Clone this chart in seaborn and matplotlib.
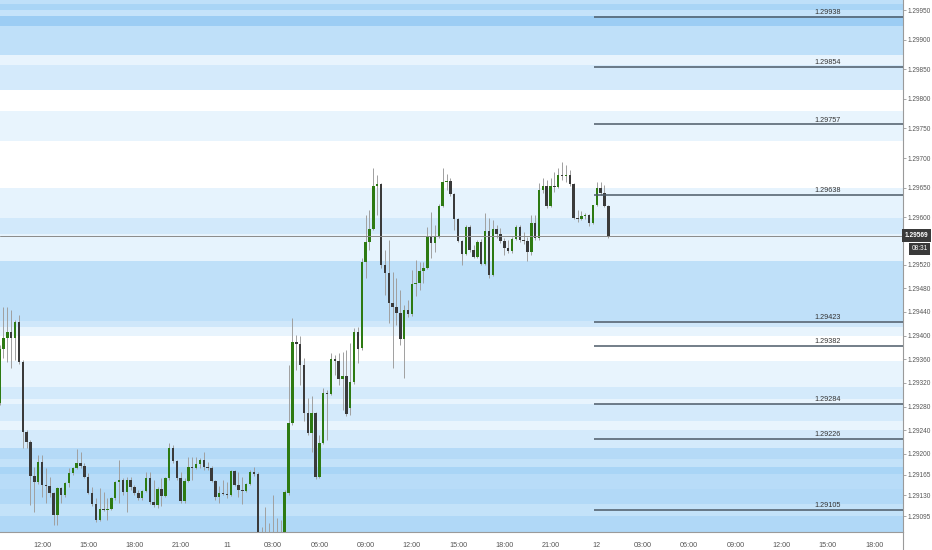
import numpy as np
import pandas as pd
import matplotlib
matplotlib.use("Agg")
import matplotlib.pyplot as plt
from matplotlib.lines import Line2D
from matplotlib import font_manager
import seaborn as sns

sns.set_style("white")
_names = {f.name for f in font_manager.fontManager.ttflist}
_narrow = 'Liberation Sans Narrow' if 'Liberation Sans Narrow' in _names else 'Liberation Sans'
plt.rcParams['font.family'] = [_narrow, 'DejaVu Sans']

# ---------------- data ----------------
# 15-minute candles, first candle at 09:15 of day "10" (x in hours since 00:00 of day 10)
first_candle_hour = 9.25
candle_step_h = 0.25

opens = [1.29286, 1.29377, 1.29396, 1.29406, 1.29396, 1.29423, 1.29355, 1.29237, 1.29220, 1.29162,
         1.29152, 1.29186, 1.29147, 1.29146, 1.29134, 1.29097, 1.29142, 1.29130, 1.29151, 1.29167,
         1.29176, 1.29184, 1.29179, 1.29161, 1.29134, 1.29115, 1.29088, 1.29107, 1.29105, 1.29107,
         1.29125, 1.29152, 1.29156, 1.29135, 1.29156, 1.29144, 1.29134, 1.29125, 1.29137, 1.29159,
         1.29118, 1.29113, 1.29140, 1.29129, 1.29159, 1.29210, 1.29188, 1.29159, 1.29120, 1.29154,
         1.29178, 1.29176, 1.29183, 1.29190, 1.29178, 1.29176, 1.29154, 1.29127, 1.29134, 1.29132,
         1.29130, 1.29171, 1.29147, 1.29139, 1.29137, 1.29149, 1.29169, 1.29166, 1.29020, 1.29030,
         1.29015, 1.29035, 1.29025, 1.29040, 1.29030, 1.29134, 1.29252, 1.29389, 1.29385, 1.29350,
         1.29269, 1.29235, 1.29269, 1.29161, 1.29218, 1.29303, 1.29301, 1.29360, 1.29357, 1.29326,
         1.29332, 1.29277, 1.29321, 1.29406, 1.29379, 1.29524, 1.29558, 1.29580, 1.29653, 1.29656,
         1.29519, 1.29506, 1.29455, 1.29448, 1.29438, 1.29394, 1.29443, 1.29436, 1.29487, 1.29489,
         1.29509, 1.29514, 1.29568, 1.29556, 1.29566, 1.29619, 1.29659, 1.29661, 1.29639, 1.29597,
         1.29560, 1.29538, 1.29583, 1.29544, 1.29533, 1.29558, 1.29521, 1.29576, 1.29502, 1.29580,
         1.29571, 1.29560, 1.29548, 1.29543, 1.29563, 1.29583, 1.29561, 1.29560, 1.29541, 1.29590,
         1.29565, 1.29646, 1.29653, 1.29619, 1.29653, 1.29651, 1.29671, 1.29669, 1.29671, 1.29656,
         1.29598, 1.29597, 1.29602, 1.29603, 1.29590, 1.29620, 1.29649, 1.29641, 1.29619]
highs = [1.29384, 1.29448, 1.29448, 1.29443, 1.29426, 1.29435, 1.29358, 1.29240, 1.29223, 1.29178,
         1.29198, 1.29198, 1.29176, 1.29161, 1.29135, 1.29144, 1.29144, 1.29152, 1.29176, 1.29178,
         1.29208, 1.29203, 1.29184, 1.29167, 1.29144, 1.29125, 1.29142, 1.29135, 1.29125, 1.29127,
         1.29154, 1.29190, 1.29159, 1.29161, 1.29161, 1.29147, 1.29139, 1.29139, 1.29169, 1.29169,
         1.29156, 1.29144, 1.29159, 1.29161, 1.29218, 1.29215, 1.29190, 1.29169, 1.29159, 1.29195,
         1.29195, 1.29195, 1.29193, 1.29203, 1.29186, 1.29179, 1.29156, 1.29146, 1.29156, 1.29152,
         1.29173, 1.29173, 1.29169, 1.29161, 1.29151, 1.29173, 1.29178, 1.29169, 1.29076, 1.29110,
         1.29083, 1.29130, 1.29091, 1.29088, 1.29139, 1.29350, 1.29429, 1.29401, 1.29399, 1.29362,
         1.29294, 1.29298, 1.29271, 1.29232, 1.29311, 1.29308, 1.29370, 1.29367, 1.29370, 1.29372,
         1.29375, 1.29387, 1.29413, 1.29414, 1.29531, 1.29604, 1.29612, 1.29683, 1.29671, 1.29658,
         1.29544, 1.29561, 1.29507, 1.29497, 1.29477, 1.29451, 1.29460, 1.29511, 1.29528, 1.29524,
         1.29524, 1.29583, 1.29609, 1.29587, 1.29622, 1.29683, 1.29673, 1.29666, 1.29641, 1.29599,
         1.29561, 1.29587, 1.29587, 1.29553, 1.29561, 1.29563, 1.29607, 1.29599, 1.29595, 1.29587,
         1.29582, 1.29565, 1.29561, 1.29566, 1.29587, 1.29587, 1.29575, 1.29566, 1.29604, 1.29604,
         1.29658, 1.29666, 1.29663, 1.29666, 1.29676, 1.29683, 1.29693, 1.29688, 1.29680, 1.29658,
         1.29612, 1.29610, 1.29607, 1.29605, 1.29620, 1.29659, 1.29659, 1.29654, 1.29620]
lows = [1.29282, 1.29362, 1.29355, 1.29345, 1.29358, 1.29352, 1.29210, 1.29210, 1.29113, 1.29102,
        1.29149, 1.29127, 1.29117, 1.29127, 1.29080, 1.29080, 1.29117, 1.29127, 1.29144, 1.29164,
        1.29174, 1.29176, 1.29159, 1.29132, 1.29112, 1.29085, 1.29086, 1.29103, 1.29088, 1.29105,
        1.29122, 1.29117, 1.29130, 1.29102, 1.29139, 1.29130, 1.29122, 1.29122, 1.29135, 1.29115,
        1.29110, 1.29108, 1.29112, 1.29127, 1.29156, 1.29184, 1.29156, 1.29117, 1.29117, 1.29152,
        1.29156, 1.29174, 1.29176, 1.29173, 1.29173, 1.29152, 1.29122, 1.29117, 1.29130, 1.29125,
        1.29129, 1.29146, 1.29127, 1.29115, 1.29135, 1.29147, 1.29162, 1.28995, 1.28990, 1.28990,
        1.29000, 1.29005, 1.29010, 1.29010, 1.29020, 1.29130, 1.29249, 1.29342, 1.29316, 1.29255,
        1.29232, 1.29203, 1.29157, 1.29159, 1.29217, 1.29223, 1.29299, 1.29333, 1.29316, 1.29274,
        1.29264, 1.29266, 1.29318, 1.29353, 1.29375, 1.29497, 1.29544, 1.29578, 1.29604, 1.29514,
        1.29468, 1.29421, 1.29345, 1.29418, 1.29384, 1.29328, 1.29431, 1.29433, 1.29467, 1.29477,
        1.29489, 1.29512, 1.29531, 1.29541, 1.29565, 1.29617, 1.29646, 1.29636, 1.29578, 1.29558,
        1.29519, 1.29536, 1.29541, 1.29531, 1.29531, 1.29519, 1.29519, 1.29497, 1.29500, 1.29565,
        1.29556, 1.29536, 1.29539, 1.29539, 1.29561, 1.29558, 1.29555, 1.29526, 1.29536, 1.29561,
        1.29561, 1.29641, 1.29615, 1.29617, 1.29642, 1.29649, 1.29663, 1.29659, 1.29653, 1.29597,
        1.29592, 1.29595, 1.29597, 1.29585, 1.29588, 1.29619, 1.29637, 1.29617, 1.29565]
closes = [1.29377, 1.29396, 1.29406, 1.29396, 1.29423, 1.29355, 1.29237, 1.29220, 1.29162, 1.29152,
          1.29186, 1.29147, 1.29146, 1.29134, 1.29097, 1.29142, 1.29130, 1.29151, 1.29167, 1.29176,
          1.29184, 1.29179, 1.29161, 1.29134, 1.29115, 1.29088, 1.29107, 1.29105, 1.29107, 1.29125,
          1.29152, 1.29156, 1.29135, 1.29156, 1.29144, 1.29134, 1.29125, 1.29137, 1.29159, 1.29118,
          1.29113, 1.29140, 1.29129, 1.29159, 1.29210, 1.29188, 1.29159, 1.29120, 1.29154, 1.29178,
          1.29176, 1.29183, 1.29190, 1.29178, 1.29176, 1.29154, 1.29127, 1.29134, 1.29132, 1.29130,
          1.29171, 1.29147, 1.29139, 1.29137, 1.29149, 1.29169, 1.29166, 1.29020, 1.29030, 1.29015,
          1.29035, 1.29025, 1.29040, 1.29030, 1.29135, 1.29252, 1.29389, 1.29385, 1.29350, 1.29269,
          1.29235, 1.29269, 1.29161, 1.29218, 1.29303, 1.29301, 1.29360, 1.29357, 1.29326, 1.29332,
          1.29267, 1.29321, 1.29406, 1.29377, 1.29524, 1.29558, 1.29580, 1.29653, 1.29656, 1.29519,
          1.29506, 1.29455, 1.29448, 1.29438, 1.29394, 1.29443, 1.29436, 1.29487, 1.29489, 1.29509,
          1.29514, 1.29568, 1.29556, 1.29566, 1.29619, 1.29659, 1.29661, 1.29639, 1.29597, 1.29560,
          1.29538, 1.29583, 1.29544, 1.29533, 1.29558, 1.29521, 1.29576, 1.29502, 1.29580, 1.29571,
          1.29560, 1.29548, 1.29543, 1.29563, 1.29583, 1.29561, 1.29560, 1.29541, 1.29590, 1.29565,
          1.29646, 1.29653, 1.29619, 1.29653, 1.29651, 1.29671, 1.29669, 1.29671, 1.29656, 1.29598,
          1.29597, 1.29602, 1.29603, 1.29590, 1.29620, 1.29649, 1.29641, 1.29619, 1.29569]

# horizontal support / resistance levels
levels = [1.29938, 1.29854, 1.29757, 1.29638, 1.29423, 1.29382, 1.29284, 1.29226, 1.29105]
current_price = 1.29569
current_countdown = "08:31"

# shaded zones (top, bottom, colour)
band_top = [1.29967, 1.29961, 1.29950, 1.29940, 1.29923, 1.29874, 1.29857, 1.29779, 1.29649,
            1.29599, 1.29571, 1.29526, 1.29424, 1.29414, 1.29357, 1.29313, 1.29293, 1.29284,
            1.29255, 1.29240, 1.29210, 1.29191, 1.29178, 1.29166, 1.29141, 1.29115, 1.29095]
band_bottom = [1.29961, 1.29950, 1.29940, 1.29923, 1.29874, 1.29857, 1.29815, 1.29729, 1.29599,
               1.29571, 1.29526, 1.29424, 1.29414, 1.29399, 1.29313, 1.29293, 1.29284, 1.29255,
               1.29240, 1.29210, 1.29191, 1.29178, 1.29166, 1.29141, 1.29115, 1.29095, 1.29068]
band_color = ['#bfe0f9', '#a9d5f6', '#c5e3fa', '#9ccdf4', '#bfe0f9', '#e8f4fd', '#d4eafb',
              '#e8f4fd', '#e6f3fd', '#d2e9fb', '#e6f3fd', '#bfe0f9', '#cfe7fa', '#e8f4fd',
              '#e8f4fd', '#d4eafb', '#e8f4fd', '#d4eafb', '#e8f4fd', '#d4eafb', '#b5daf7',
              '#c3e2f9', '#a9d5f6', '#b8dcf8', '#b2d9f7', '#c3e2f9', '#b0d8f7']

# axis ticks
y_ticks = [1.29950, 1.29900, 1.29850, 1.29800, 1.29750, 1.29700, 1.29650, 1.29600, 1.29520,
           1.29480, 1.29440, 1.29400, 1.29360, 1.29320, 1.29280, 1.29240, 1.29200, 1.29165,
           1.29130, 1.29095]
x_tick_hours = [12, 15, 18, 21, 24, 27, 30, 33, 36, 39, 42, 45, 48, 51, 54, 57, 60, 63, 66]
x_tick_labels = ['12:00', '15:00', '18:00', '21:00', '11', '03:00', '06:00', '09:00', '12:00',
                 '15:00', '18:00', '21:00', '12', '03:00', '06:00', '09:00', '12:00', '15:00', '18:00']

# ---------------- figure ----------------
W, H = 932, 550
FS = 5.2
FSY = 4.7
fig = plt.figure(figsize=(W / 100, H / 100), dpi=100)
ax = fig.add_axes([0, 18 / H, 903 / W, 532 / H])

x_left, x_right = 9.2745, 67.87
y_low, y_high = 1.29068, 1.29967
level_x_start = 47.82
level_label_x = 63.0

for t, b, c in zip(band_top, band_bottom, band_color):
    ax.axhspan(b, t, color=c, lw=0, zorder=0)

df = pd.DataFrame({'o': opens, 'h': highs, 'l': lows, 'c': closes})
df['t'] = first_candle_hour + candle_step_h * np.arange(len(df))
df['up'] = df['c'] >= df['o']

green, dark = '#2d7a12', '#3a3a3a'
ax.vlines(df['t'], df['l'], df['h'], color='#a0a0a0', lw=0.7, zorder=2)
body_bottom = np.minimum(df['o'], df['c'])
body_h = np.maximum((df['c'] - df['o']).abs(), 0.000015)
ax.bar(df['t'], body_h, bottom=body_bottom, width=0.16,
       color=np.where(df['up'], green, dark), linewidth=0, zorder=3)

# current price line
ax.axhline(current_price, color='#8a8a8a', lw=0.7, zorder=4)

# level lines with labels
ax.hlines(levels, level_x_start, x_right, color='#4d5b68', lw=1.1, zorder=5)
for lv in levels:
    ax.text(level_label_x, lv + 0.000012, f"{lv:.5f}", ha='center', va='bottom',
            fontsize=FS, color='#333333', zorder=6)

ax.set_xlim(x_left, x_right)
ax.set_ylim(y_low, y_high)

sns.despine(ax=ax, left=True, top=True, right=False, bottom=False)
for s in ['right', 'bottom']:
    ax.spines[s].set_color('#9a9a9a')
    ax.spines[s].set_linewidth(0.8)

ax.yaxis.tick_right()
ax.set_yticks(y_ticks)
ax.set_yticklabels([f"{v:.5f}" for v in y_ticks])
ax.tick_params(axis='y', direction='out', length=2.2, width=0.6, color='#9a9a9a',
               labelsize=FSY, labelcolor='#555555', pad=1.2)
ax.set_xticks(x_tick_hours)
ax.set_xticklabels(x_tick_labels)
ax.tick_params(axis='x', direction='out', length=3, width=0.6, color='#9a9a9a',
               labelsize=FS, labelcolor='#555555', pad=4)
ax.grid(False)

# right axis line continues to figure bottom
fig.add_artist(Line2D([903 / W, 903 / W], [0, 18 / H], color='#9a9a9a', lw=0.8))

# current price tag on the axis
ytr = ax.get_yaxis_transform()
ax.text(1.0015, current_price, f"{current_price:.5f}", transform=ytr, ha='left', va='center',
        fontsize=FSY, color='white', fontweight='bold', clip_on=False, zorder=10,
        bbox=dict(boxstyle='square,pad=0.4', fc='#3a3a3a', ec='none'))
ax.annotate(current_countdown, xy=(1.0, current_price), xycoords=ytr,
            xytext=(6, -9.5), textcoords='offset points', ha='left', va='center',
            fontsize=FSY, color='white', annotation_clip=False, zorder=10,
            bbox=dict(boxstyle='square,pad=0.4', fc='#3a3a3a', ec='none'))

fig.savefig('out.png', dpi=100)
